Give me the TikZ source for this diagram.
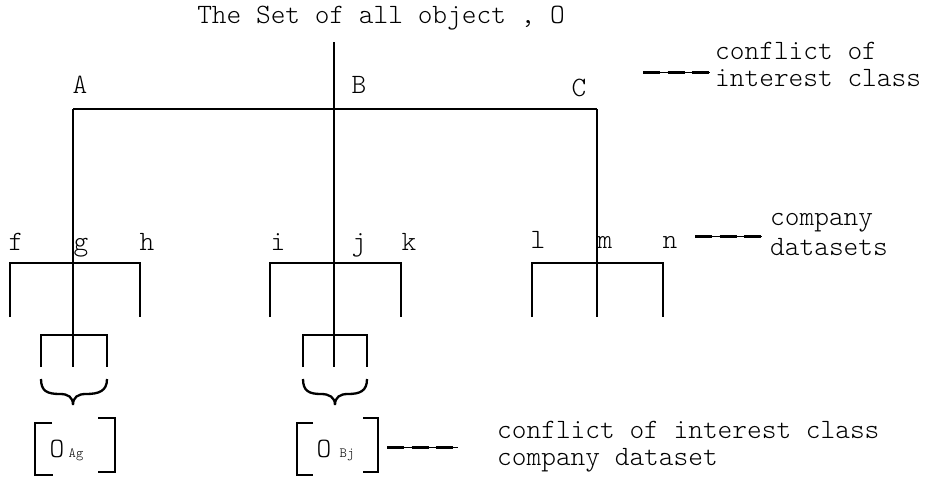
\documentclass[tikz,border=0pt]{standalone}
\usepackage{fontspec}
\setmonofont{lmmonolt10-regular.otf}
\begin{document}
\begin{tikzpicture}[x=1pt,y=-1pt,
  txt/.style={font=\ttfamily\fontsize{28}{32}\selectfont, inner sep=0pt, anchor=base},
  note/.style={txt, anchor=base west},
  subtxt/.style={font=\ttfamily\fontsize{14}{16}\selectfont, inner sep=0pt, anchor=base},
  tree/.style={line width=2.5pt, line join=miter},
  bracket/.style={line width=2.7pt, line join=miter},
  legthin/.style={line width=0.7pt},
  legdash/.style={line width=3pt, dash pattern=on 17pt off 7.5pt}]
\useasboundingbox (0,0) rectangle (935,482);

% title
\node[txt] (title) at (381,23) {The Set of all object , O};

% junction points of the tree
\coordinate (root) at (334,42);
\coordinate (cA) at (73,109);
\coordinate (cB) at (334,109);
\coordinate (cC) at (597,109);

% conflict of interest class labels
\node[txt] (lA) at (80,93) {A};
\node[txt] (lB) at (359,93) {B};
\node[txt] (lC) at (579,96) {C};

% company labels
\node[txt] (lf) at (16,250) {f};
\node[txt] (lg) at (81,250) {g};
\node[txt] (lh) at (147,250) {h};
\node[txt] (li) at (278,250) {i};
\node[txt] (lj) at (359,250) {j};
\node[txt] (lk) at (409,250) {k};
\node[txt] (ll) at (538,248) {l};
\node[txt] (lm) at (605,248) {m};
\node[txt] (ln) at (670,248) {n};

% company bars
\coordinate (fTop) at (10,263);  \coordinate (fEnd) at (10,317);
\coordinate (hTop) at (140,263); \coordinate (hEnd) at (140,317);
\coordinate (iTop) at (270,263); \coordinate (iEnd) at (270,317);
\coordinate (kTop) at (401,263); \coordinate (kEnd) at (401,317);
\coordinate (lTop) at (532,263); \coordinate (lEnd) at (532,317);
\coordinate (nTop) at (663,263); \coordinate (nEnd) at (663,317);
\coordinate (mEnd) at (597,317);

% lower bars under g and j
\coordinate (gL) at (41,335);  \coordinate (gLe) at (41,367);
\coordinate (gR) at (107,335); \coordinate (gRe) at (107,367);
\coordinate (gEnd) at (73,367);
\coordinate (jL) at (303,335); \coordinate (jLe) at (303,367);
\coordinate (jR) at (367,335); \coordinate (jRe) at (367,367);
\coordinate (jEnd) at (334,367);

% tree lines
\draw[tree] (root) -- (jEnd);
\draw[tree] (cA) -- (cC);
\draw[tree] (cA) -- (gEnd);
\draw[tree] (cC) -- (mEnd);
\draw[tree] (fEnd) -- (fTop) -- (hTop) -- (hEnd);
\draw[tree] (iEnd) -- (iTop) -- (kTop) -- (kEnd);
\draw[tree] (lEnd) -- (lTop) -- (nTop) -- (nEnd);
\draw[tree] (gLe) -- (gL) -- (gR) -- (gRe);
\draw[tree] (jLe) -- (jL) -- (jR) -- (jRe);

% braces
\draw[tree, line width=2.3pt] (41,379) .. controls (41,391) and (47,394) .. (60,394)
  .. controls (68,394) and (73,397) .. (73,405)
  .. controls (73,397) and (78,394) .. (86,394)
  .. controls (99,394) and (107,391) .. (107,379);
\draw[tree, line width=2.3pt] (303,379) .. controls (303,391) and (309,394) .. (321,394)
  .. controls (329,394) and (335,397) .. (335,405)
  .. controls (335,397) and (340,394) .. (348,394)
  .. controls (360,394) and (367,391) .. (367,379);

% bracketed objects
\draw[bracket] (52,423) -- (35,423) -- (35,475) -- (53,475);
\draw[bracket] (98,418) -- (115,418) -- (115,472) -- (98,472);
\node[txt] (oA) at (57,457) {O};
\node[subtxt] (oAs) at (76,457) {Ag};
\draw[bracket] (313,423) -- (297,423) -- (297,475) -- (313,475);
\draw[bracket] (363,418) -- (378,418) -- (378,472) -- (363,472);
\node[txt] (oB) at (324,457) {O};
\node[subtxt] (oBs) at (347,457) {Bj};

% legend
\coordinate (d1a) at (643,72);  \coordinate (d1b) at (710,72);
\draw[legthin] (d1a) -- (d1b);
\draw[legdash] (d1a) -- (d1b);
\node[note] (n1a) at (715,59.5) {conflict of};
\node[note] (n1b) at (715,86.5) {interest class};

\coordinate (d2a) at (695,236); \coordinate (d2b) at (762,236);
\draw[legthin] (d2a) -- (d2b);
\draw[legdash] (d2a) -- (d2b);
\node[note] (n2a) at (770,225) {company};
\node[note] (n2b) at (770,255) {datasets};

\coordinate (d3a) at (387,447); \coordinate (d3b) at (458,447);
\draw[legthin] (d3a) -- (d3b);
\draw[legdash] (d3a) -- (d3b);
\node[note] (n3a) at (497,438) {conflict of interest class};
\node[note] (n3b) at (497,465) {company dataset};
\end{tikzpicture}
\end{document}
